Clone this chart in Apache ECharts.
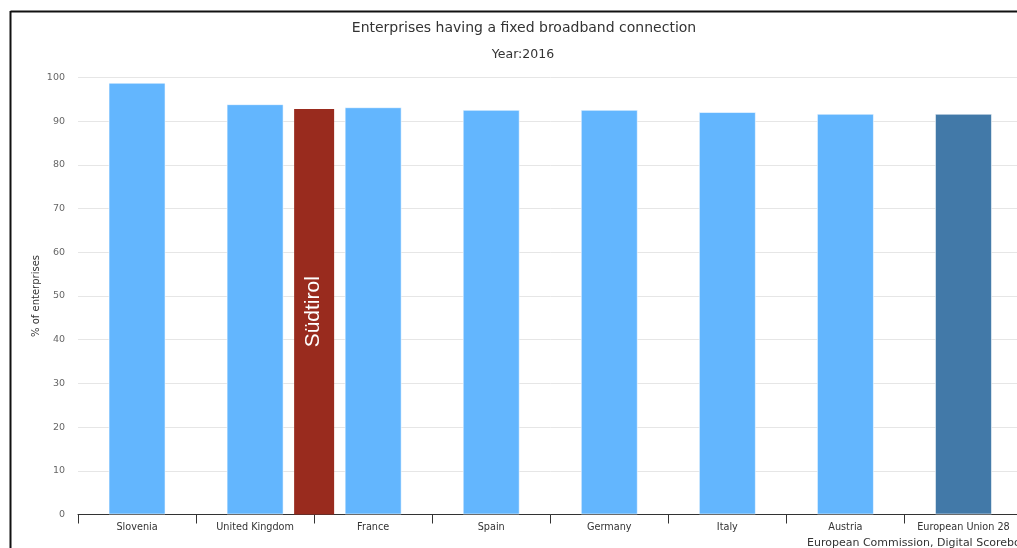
<!DOCTYPE html>
<html>
<head>
<meta charset="utf-8">
<script src="https://cdn.jsdelivr.net/npm/echarts@6/dist/echarts.min.js"></script>
<style>
html,body{margin:0;padding:0;background:#fff;overflow:hidden;width:1017px;height:548px;}
#chart{width:1040px;height:548px;}
</style>
</head>
<body>
<div id="chart"></div>
<script>
const categories = ['Slovenia','United Kingdom','France','Spain','Germany','Italy','Austria','European Union 28'];
const values = [98.8, 93.9, 93.2, 92.6, 92.6, 92.1, 91.7, 91.7];
const regionName = 'Südtirol';
const regionPosition = 1.5;
const regionValue = 92.8;
const yTicks = [0, 10, 20, 30, 40, 50, 60, 70, 80, 90, 100];

const FONT = 'DejaVu Sans';
const chart = echarts.init(document.getElementById('chart'));
chart.setOption({
  animation: false,
  backgroundColor: '#fff',
  title: [
    {text: 'Enterprises having a fixed broadband connection', left: 519, top: 16, textAlign: 'center',
     textStyle: {fontFamily: FONT, fontSize: 14, fontWeight: 'normal', color: '#333'}},
    {text: 'Year:2016', left: 518, top: 43, textAlign: 'center',
     textStyle: {fontFamily: FONT, fontSize: 12.5, fontWeight: 'normal', color: '#333'}}
  ],
  grid: {left: 78, top: 77.5, width: 944.5, height: 437},
  xAxis: [
    {type: 'category', data: categories,
     axisLine: {lineStyle: {color: '#333', width: 1}},
     axisTick: {show: true, length: 9, lineStyle: {color: '#333'}},
     axisLabel: {fontFamily: FONT, fontSize: 9.7, color: '#333', margin: 8, interval: 0},
     splitLine: {show: false}},
    {type: 'value', min: -0.5, max: 7.5, show: false}
  ],
  yAxis: {
    type: 'value', min: yTicks[0], max: yTicks[yTicks.length - 1], interval: 10,
    name: '% of enterprises', nameLocation: 'middle', nameGap: 37, nameRotate: 90,
    nameMoveOverlap: false,
    nameTextStyle: {fontFamily: FONT, fontSize: 10, color: '#333'},
    axisLine: {show: false}, axisTick: {show: false},
    axisLabel: {fontFamily: FONT, fontSize: 9.5, color: '#666', margin: 13},
    splitLine: {lineStyle: {color: '#e6e6e6', width: 1}}
  },
  series: [
    {type: 'bar', xAxisIndex: 0, barWidth: 57,
     data: values.map((v, i) => ({value: v, itemStyle: {color: i === categories.length - 1 ? '#4279a8' : '#63b6fe'}})),
     itemStyle: {borderColor: 'rgba(255,255,255,0.55)', borderWidth: 1}},
    {type: 'bar', xAxisIndex: 1, barWidth: 40, name: regionName,
     data: [[regionPosition, regionValue]],
     itemStyle: {color: '#992b1e'},
     label: {show: true, position: 'inside', rotate: 90, formatter: regionName,
             fontFamily: 'Liberation Sans', fontSize: 21, color: '#fff', offset: [0, -1]}}
  ],
  graphic: [
    {type: 'line', shape: {x1: 10.5, y1: 11.5, x2: 1040, y2: 11.5}, style: {stroke: '#111', lineWidth: 2}},
    {type: 'line', shape: {x1: 10.5, y1: 11, x2: 10.5, y2: 548}, style: {stroke: '#111', lineWidth: 2}},
    {type: 'text', left: 807, top: 538, style: {text: 'European Commission, Digital Scoreboard', fontFamily: FONT, fontSize: 11, fill: '#333'}}
  ]
});
</script>
</body>
</html>
